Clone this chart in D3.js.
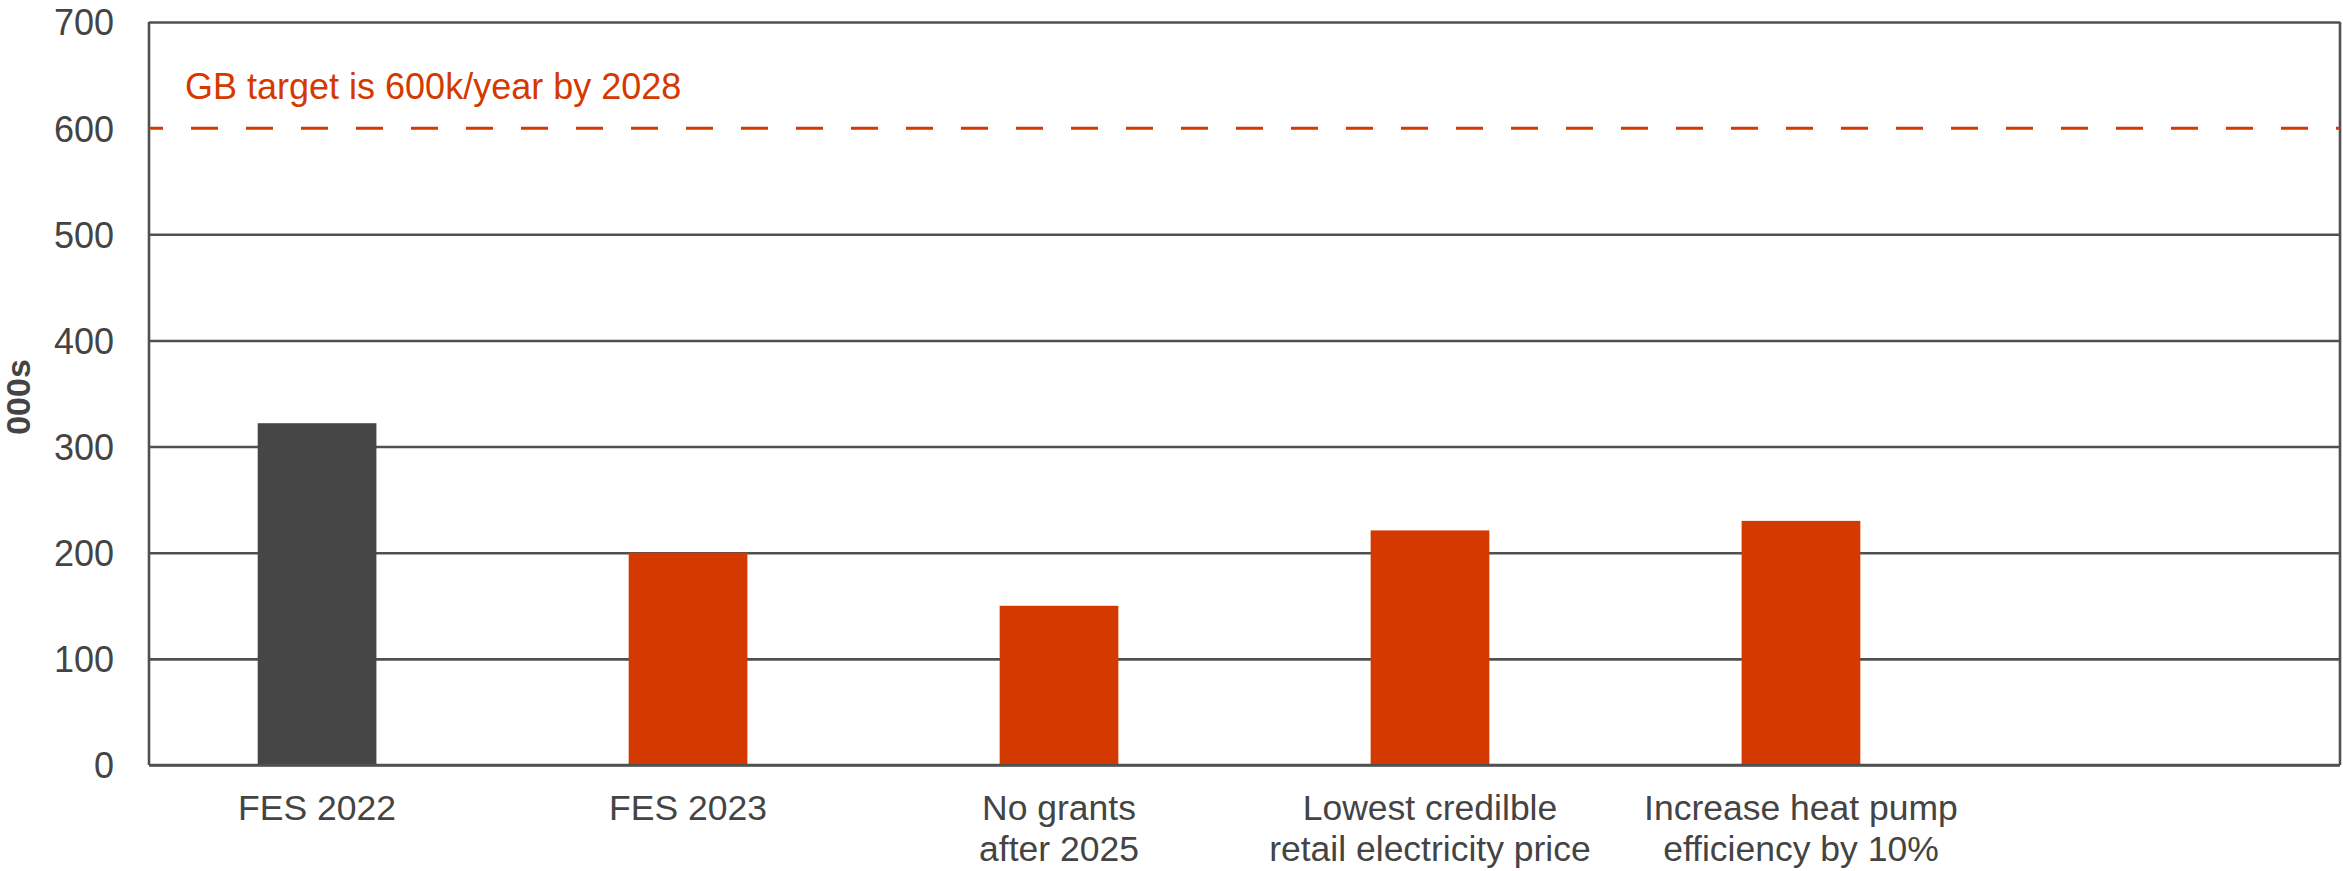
<!DOCTYPE html>
<html>
<head>
<meta charset="utf-8">
<script src="https://cdn.jsdelivr.net/npm/d3@7"></script>
<style>
  html, body { margin: 0; padding: 0; background: #ffffff; }
  svg { display: block; font-family: "Liberation Sans", Arial, sans-serif; }
</style>
</head>
<body>
<svg id="chart" width="2343" height="871"></svg>
<script>
// Heat pump installations per year (thousands)
const categories = ["FES 2022", "FES 2023", "No grants after 2025", "Lowest credilble retail electricity price", "Increase heat pump efficiency by 10%"];
const labelLines = [["FES 2022"], ["FES 2023"], ["No grants", "after 2025"], ["Lowest credilble", "retail electricity price"], ["Increase heat pump", "efficiency by 10%"]];
const values = [322, 200, 150, 221, 230];
const barColors = ["#464646", "#D43A00", "#D43A00", "#D43A00", "#D43A00"];
const yTicks = [0, 100, 200, 300, 400, 500, 600, 700];
const targetValue = 600;
const targetLabel = "GB target is 600k/year by 2028";
const yTitle = "000s";

const svg = d3.select("#chart");
const plotLeft = 149, plotRight = 2340, plotTop = 22, plotBottom = 765;
const red = "#D43A00", grid = "#505050", textCol = "#444444";
const lineW = 2.6;

// The category axis holds one spare empty slot on the right
const slots = d3.range(categories.length + 1);
const x = d3.scaleBand().domain(slots).range([plotLeft, plotRight])
  .paddingInner(0.68).paddingOuter(0.293);
const y = d3.scaleLinear().domain([0, 700]).range([plotBottom, plotTop]);

// Horizontal gridlines and tick labels
const yAxis = d3.axisLeft(y).tickValues(yTicks).tickSize(-(plotRight - plotLeft)).tickPadding(35)
  .tickFormat(d3.format("d"));
const gy = svg.append("g").attr("transform", `translate(${plotLeft},0)`).call(yAxis);
gy.select(".domain").remove();
gy.selectAll(".tick line").attr("stroke", grid).attr("stroke-width", lineW)
  .attr("stroke-opacity", d => d === targetValue ? 0 : 1);
gy.selectAll(".tick text").attr("fill", textCol).attr("font-size", 36)
  .attr("font-family", "'Liberation Sans', Arial, sans-serif").attr("dy", "0.36em");

// Frame: left axis and right edge
svg.append("line").attr("x1", plotLeft).attr("x2", plotLeft).attr("y1", y(700)).attr("y2", y(0))
  .attr("stroke", grid).attr("stroke-width", lineW);
svg.append("line").attr("x1", plotRight).attr("x2", plotRight).attr("y1", y(700)).attr("y2", y(0))
  .attr("stroke", grid).attr("stroke-width", lineW);

// Bars
svg.append("g").selectAll("rect").data(values).join("rect")
  .attr("x", (d, i) => x(i))
  .attr("width", x.bandwidth())
  .attr("y", d => y(d))
  .attr("height", d => y(0) - y(d))
  .attr("fill", (d, i) => barColors[i]);

// Baseline over the bars
svg.append("line").attr("x1", plotLeft).attr("x2", plotRight).attr("y1", y(0)).attr("y2", y(0))
  .attr("stroke", grid).attr("stroke-width", lineW);

// Target line
svg.append("line").attr("x1", plotLeft).attr("x2", plotRight).attr("y1", y(targetValue)).attr("y2", y(targetValue))
  .attr("stroke", red).attr("stroke-width", 3)
  .attr("stroke-dasharray", "27,28").attr("stroke-dashoffset", 13);
svg.append("text").attr("x", 185).attr("y", y(targetValue) - 29)
  .attr("fill", red).attr("font-size", 36).text(targetLabel);

// Category labels
const gx = svg.append("g");
labelLines.forEach((lines, i) => {
  const cx = x(i) + x.bandwidth() / 2;
  const t = gx.append("text").attr("text-anchor", "middle").attr("fill", textCol).attr("font-size", 35.5)
    .attr("x", cx).attr("y", 820);
  lines.forEach((ln, j) => t.append("tspan").attr("x", cx).attr("dy", j ? 41 : 0).text(ln));
});

// Axis title
svg.append("text").attr("transform", `translate(30,397) rotate(-90)`)
  .attr("text-anchor", "middle").attr("font-weight", "bold").attr("font-size", 34)
  .attr("fill", textCol).text(yTitle);
</script>
</body>
</html>
